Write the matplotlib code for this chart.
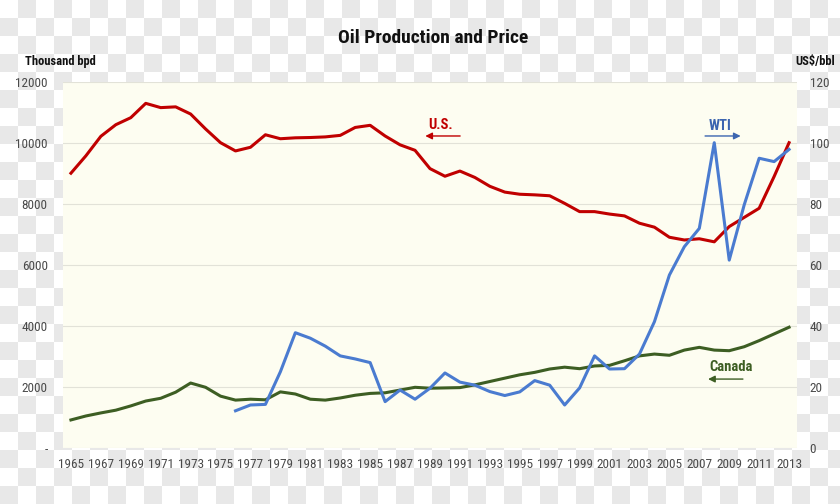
import numpy as np
import matplotlib
matplotlib.use("Agg")
import matplotlib.pyplot as plt
from matplotlib import font_manager

# pick a condensed/narrow face if one is installed
cands = [f for f in font_manager.fontManager.ttflist
         if ('Narrow' in f.fname or 'Condensed' in f.fname or 'Narrow' in f.name
             or 'Condensed' in f.name)]
fam = 'DejaVu Sans'
stretch = 'normal'
condensed_found = False
for pref in ['Liberation Sans Narrow', 'Roboto Condensed', 'Open Sans Condensed', 'DejaVu Sans']:
    for f in cands:
        if f.name == pref:
            fam = pref
            condensed_found = True
            if pref == 'DejaVu Sans':
                stretch = 'condensed'
            break
    if condensed_found:
        break
if not condensed_found and cands:
    fam = cands[0].name
    condensed_found = True

plt.rcParams['font.family'] = [fam, 'DejaVu Sans']
plt.rcParams['font.stretch'] = stretch
tick_fs = 9.5 if condensed_found else 7.5

years = list(range(1965, 2014))
us = [9010, 9580, 10220, 10600, 10830, 11300, 11160, 11185, 10950, 10460,
      10010, 9740, 9860, 10270, 10140, 10170, 10180, 10200, 10250, 10510,
      10580, 10230, 9940, 9760, 9160, 8910, 9080, 8870, 8580, 8390,
      8320, 8300, 8270, 8020, 7750, 7750, 7670, 7610, 7370, 7240,
      6910, 6820, 6860, 6760, 7260, 7560, 7860, 8900, 10010]
canada = [920, 1050, 1150, 1240, 1380, 1540, 1630, 1830, 2130, 1990,
          1700, 1570, 1600, 1580, 1840, 1770, 1600, 1570, 1640, 1730,
          1790, 1810, 1900, 1990, 1960, 1970, 1980, 2070, 2180, 2290,
          2400, 2480, 2590, 2650, 2600, 2690, 2710, 2860, 3020, 3080,
          3040, 3210, 3300, 3210, 3190, 3320, 3520, 3740, 3960]
wti_years = list(range(1976, 2014))
wti = [12.2, 14.1, 14.3, 25.0, 37.8, 36.0, 33.4, 30.2, 29.2, 28.0,
       15.2, 19.0, 16.0, 19.6, 24.6, 21.6, 20.6, 18.5, 17.2, 18.4,
       22.1, 20.6, 14.1, 19.7, 30.2, 25.9, 26.0, 30.8, 41.4, 56.7,
       66.0, 72.0, 100.1, 61.6, 79.7, 95.0, 93.9, 97.9]

left_ticks = [0, 2000, 4000, 6000, 8000, 10000, 12000]
left_labels = ['-', '2000', '4000', '6000', '8000', '10000', '12000']
right_ticks = [0, 20, 40, 60, 80, 100, 120]
xticks = list(range(1965, 2014, 2))

W, H = 840, 504
fig = plt.figure(figsize=(W / 100, H / 100), dpi=100)

# checkerboard backdrop
sq = 18
yy, xx = np.mgrid[0:H, 0:W]
board = ((yy // sq + xx // sq) % 2).astype(float)
img = np.where(board[..., None] == 1, 0.91, 1.0) * np.ones((H, W, 3))
fig.figimage(img, 0, 0, zorder=0)

ax = fig.add_axes([63 / W, 1 - 448 / H, (797 - 63) / W, (448 - 82) / H])
ax.set_facecolor('#fdfdf1')
ax.set_zorder(1)
for s in ax.spines.values():
    s.set_visible(False)

ax.set_xlim(1964.47, 2013.53)
ax.set_ylim(0, 12000)
ax.set_yticks(left_ticks)
ax.set_yticklabels(left_labels)
ax.set_xticks(xticks)
ax.set_xticklabels([str(x) for x in xticks])
ax.tick_params(axis='both', length=0, labelsize=tick_fs, labelcolor='#4a4a4a')
ax.tick_params(axis='y', pad=11)
ax.tick_params(axis='x', pad=7)
ax.grid(axis='y', color='#e2e2d8', linewidth=0.8)
ax.set_axisbelow(True)

ax.plot(years, us, color='#c00000', linewidth=2.2, zorder=3)
ax.plot(years, canada, color='#3d5e23', linewidth=2.2, zorder=3)

ax2 = ax.twinx()
for s in ax2.spines.values():
    s.set_visible(False)
ax2.set_ylim(0, 120)
ax2.set_yticks(right_ticks)
ax2.tick_params(axis='y', length=0, labelsize=tick_fs, labelcolor='#4a4a4a', pad=9)
ax2.plot(wti_years, wti, color='#4a7bd0', linewidth=2.2, zorder=3)

# annotations (left-axis units)
ax.text(1989.7, 10600, 'U.S.', color='#c00000', fontsize=10.5, fontweight='bold',
        ha='center', va='center')
ax.annotate('', xy=(1988.5, 10230), xytext=(1991.2, 10230),
            arrowprops=dict(arrowstyle='-|>', color='#c00000', lw=1.0, mutation_scale=10))
ax.text(2008.4, 10560, 'WTI', color='#3c65b0', fontsize=10.5, fontweight='bold',
        ha='center', va='center')
ax.annotate('', xy=(2009.95, 10230), xytext=(2007.2, 10230),
            arrowprops=dict(arrowstyle='-|>', color='#3c65b0', lw=1.0, mutation_scale=10))
ax.text(2009.1, 2660, 'Canada', color='#3d5e23', fontsize=10.5, fontweight='bold',
        ha='center', va='center')
ax.annotate('', xy=(2007.4, 2260), xytext=(2010.1, 2260),
            arrowprops=dict(arrowstyle='-|>', color='#3d5e23', lw=1.0, mutation_scale=10))

fig.text(433 / W, 1 - 38 / H, 'Oil Production and Price', ha='center', va='center',
         fontsize=14, fontweight='bold', color='#111111')
fig.text(25 / W, 1 - 62 / H, 'Thousand bpd', ha='left', va='center',
         fontsize=9, fontweight='bold', color='#111111')
fig.text(835 / W, 1 - 62 / H, 'US$/bbl', ha='right', va='center',
         fontsize=9, fontweight='bold', color='#111111')

fig.savefig('out.png', dpi=100)
